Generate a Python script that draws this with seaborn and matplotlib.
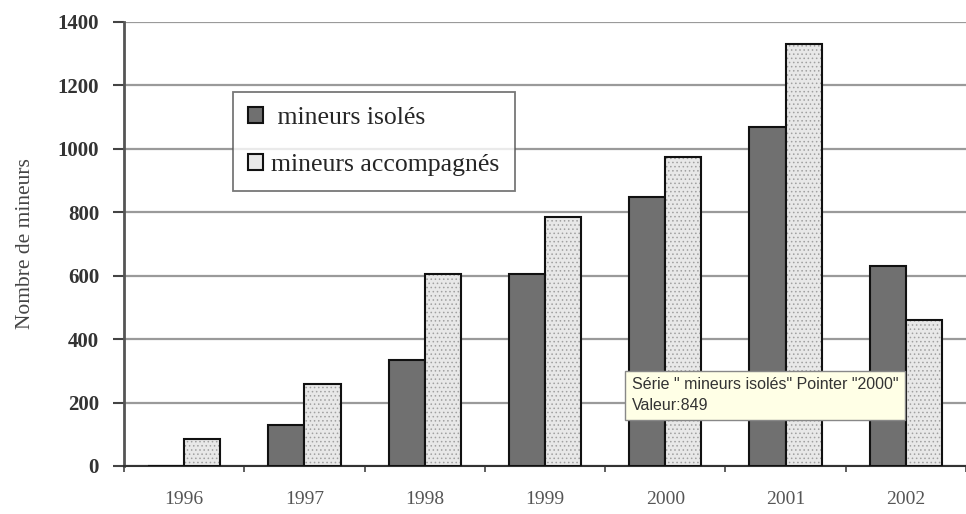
import matplotlib
matplotlib.use("Agg")
import matplotlib.pyplot as plt
import seaborn as sns
import pandas as pd
from matplotlib.patches import Patch, Rectangle

years = ["1996", "1997", "1998", "1999", "2000", "2001", "2002"]
isoles = [0, 130, 335, 605, 849, 1070, 630]
accompagnes = [85, 260, 605, 785, 975, 1332, 460]
series = ["mineurs isolés", "mineurs accompagnés"]

df = pd.DataFrame({
    "annee": years * 2,
    "nombre": isoles + accompagnes,
    "serie": [series[0]] * len(years) + [series[1]] * len(years),
})

sns.set_style("white")
plt.rcParams["font.family"] = ["Liberation Serif", "DejaVu Serif"]
plt.rcParams["hatch.linewidth"] = 0.6

fig = plt.figure(figsize=(9.66, 5.14), dpi=100)
ax = fig.add_axes([0.1284, 0.0934, 0.8716, 0.8638])

sns.barplot(data=df, x="annee", y="nombre", hue="serie", order=years,
            hue_order=series, width=0.6, palette=["#707070", "#e4e4e4"],
            edgecolor="black", linewidth=1.5, ax=ax, legend=False, zorder=3)

# dark bars
for p in ax.containers[0]:
    p.set_facecolor("#707070")
    p.set_edgecolor("#111111")
# dotted light bars: hatch in gray, black outline drawn on top
for p in ax.containers[1]:
    p.set_facecolor("#e8e8e8")
    p.set_edgecolor("#a0a0a0")
    p.set_hatch("....")
    p.set_linewidth(0)
    ax.add_patch(Rectangle((p.get_x(), p.get_y()), p.get_width(), p.get_height(),
                           fill=False, edgecolor="#111111", linewidth=1.5, zorder=4))

ax.set_xlim(-0.5, 6.5)
ax.set_ylim(0, 1400)
ax.set_yticks(range(0, 1401, 200))
ax.yaxis.grid(True, color="#9a9a9a", linewidth=1.6)
ax.set_axisbelow(True)
ax.set_xlabel("")
ax.set_ylabel("Nombre de mineurs", fontsize=15.5, color="#444444", labelpad=16)

for s in ["top", "right"]:
    ax.spines[s].set_visible(False)
ax.spines["left"].set_color("#555555")
ax.spines["left"].set_linewidth(2)
ax.spines["bottom"].set_color("#333333")
ax.spines["bottom"].set_linewidth(1.5)

ax.tick_params(axis="y", direction="out", length=8, width=1.5, color="#444444",
               labelsize=15, labelcolor="#333333", left=True, pad=10)
ax.tick_params(axis="x", length=0, labelsize=14, labelcolor="#555555", pad=18)
ax.set_xticks([i + 0.5 for i in range(-1, 7)], minor=True)
ax.tick_params(axis="x", which="minor", direction="out", length=4, width=1.2,
               color="#444444", bottom=True)
for lab in ax.get_yticklabels():
    lab.set_fontweight("bold")

handles = [Patch(facecolor="#707070", edgecolor="#111111", linewidth=1.5),
           Patch(facecolor="#e8e8e8", edgecolor="#111111", linewidth=1.5)]
leg = ax.legend(handles, [" mineurs isolés", "mineurs accompagnés"],
                loc="upper left", bbox_to_anchor=(0.129, 0.843),
                frameon=True, fancybox=False, fontsize=18.5,
                handlelength=0.6, handleheight=0.6, handletextpad=0.3,
                borderpad=0.6, labelspacing=0.95, borderaxespad=0)
leg.get_frame().set_edgecolor("#555555")
leg.get_frame().set_linewidth(1.3)
leg.set_zorder(6)

ax.text(0.603, 0.125, "Série \" mineurs isolés\" Pointer \"2000\"\nValeur:849",
        transform=ax.transAxes, fontsize=11.5, family="Liberation Sans",
        color="#333333", linespacing=1.55, zorder=10,
        bbox=dict(boxstyle="square,pad=0.4", facecolor="#ffffe6",
                  edgecolor="#888888", linewidth=1))

fig.savefig("out.png", dpi=100)
